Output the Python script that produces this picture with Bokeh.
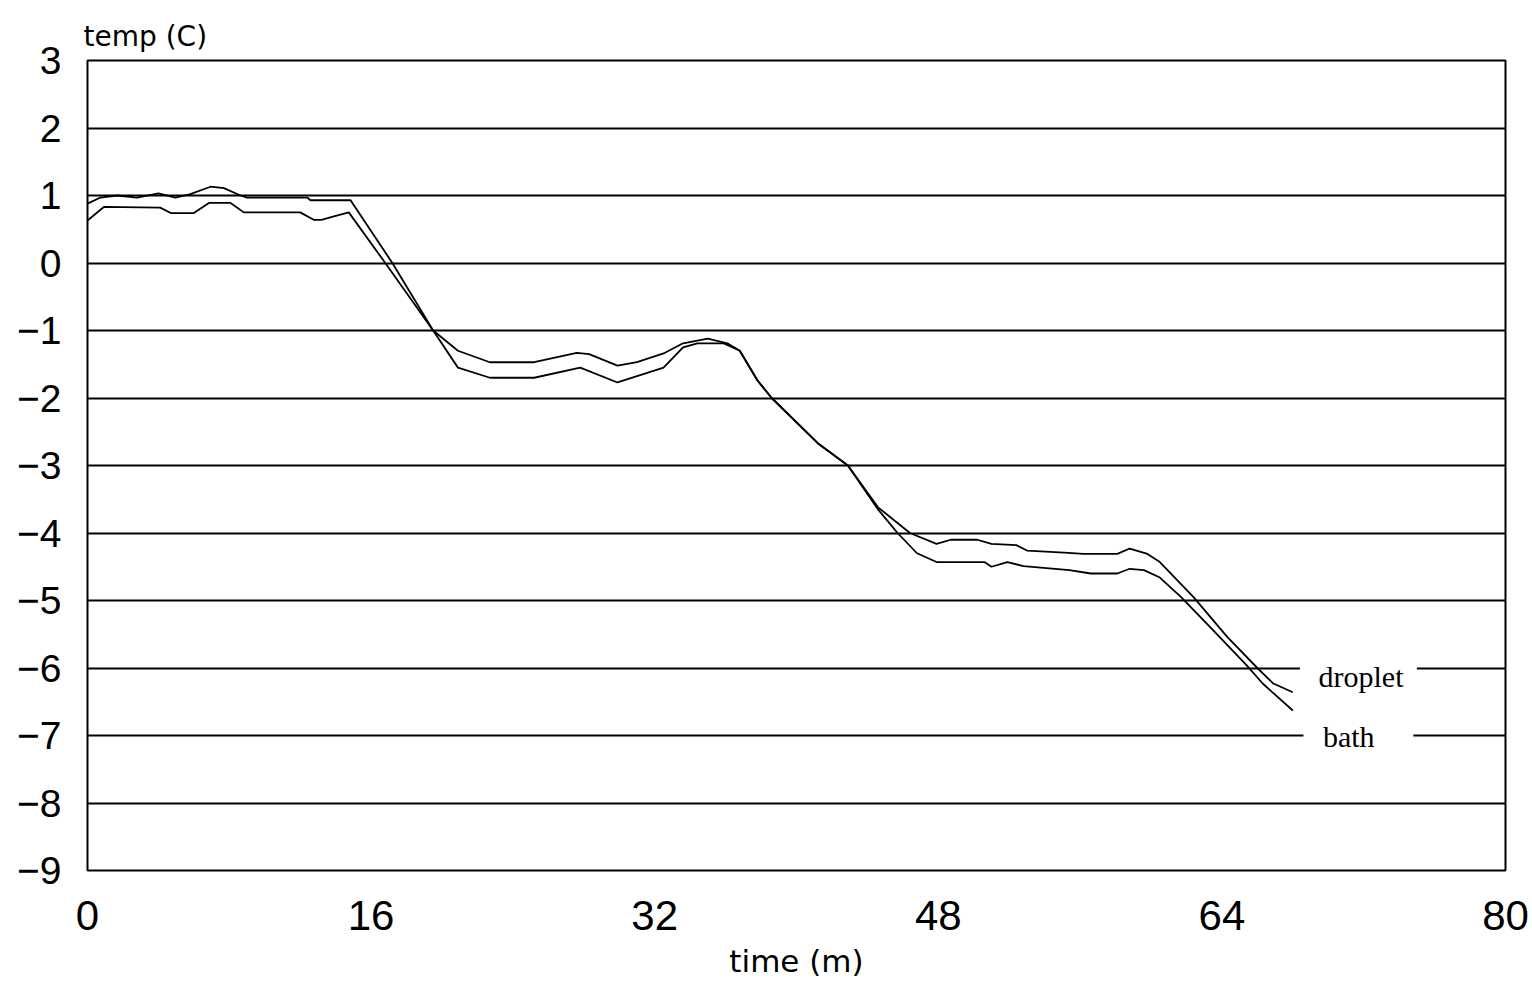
from bokeh.plotting import figure
from bokeh.models import Range1d, FixedTicker, ColumnDataSource
from bokeh.core.properties import value
from bokeh.embed import file_html
from bokeh.resources import INLINE

# ---- data ----
droplet_t = [0, 0.73, 1.67, 2.8, 4.0, 4.96, 5.8, 6.94, 7.7, 8.63, 9.0, 12.4, 12.58, 14.84,
             17.2, 19.5, 20.9, 22.7, 25.2, 27.6, 28.3, 29.9, 31.0, 32.5, 33.6, 35.0, 36.1, 36.8,
             37.8, 38.6, 41.2, 42.9, 44.6, 46.4, 47.9, 48.7, 50.2, 51.0, 52.4, 53.0, 55.1, 56.2,
             58.1, 58.8, 59.8, 60.5, 62.4, 64.3, 66.0, 66.9, 68.0]
droplet_temp = [0.88, 0.97, 1.0, 0.97, 1.03, 0.97, 1.02, 1.13, 1.11, 1.0, 0.97, 0.97, 0.93, 0.93,
                0.0, -1.0, -1.3, -1.47, -1.47, -1.33, -1.35, -1.52, -1.47, -1.34, -1.19, -1.12, -1.19, -1.3,
                -1.74, -2.0, -2.67, -3.0, -3.62, -4.0, -4.16, -4.1, -4.1, -4.16, -4.18, -4.26, -4.29, -4.31,
                -4.31, -4.23, -4.31, -4.43, -4.95, -5.54, -6.0, -6.23, -6.36]

bath_t = [0, 0.92, 4.1, 4.7, 6.0, 6.85, 8.07, 8.82, 12.0, 12.76, 13.2, 13.9, 14.74,
          16.8, 19.5, 20.9, 22.7, 25.2, 27.8, 29.9, 32.5, 33.6, 34.4, 35.9, 36.8,
          37.8, 38.6, 41.2, 42.9, 44.6, 45.7, 46.8, 47.9, 50.6, 51.0, 51.9, 52.8, 55.4, 56.6,
          58.1, 58.8, 59.6, 60.5, 61.7, 63.5, 65.4, 66.3, 68.0]
bath_temp = [0.63, 0.83, 0.82, 0.74, 0.74, 0.89, 0.89, 0.75, 0.75, 0.64, 0.64, 0.69, 0.75,
             0.0, -1.0, -1.55, -1.7, -1.7, -1.55, -1.77, -1.55, -1.25, -1.19, -1.19, -1.3,
             -1.74, -2.0, -2.67, -3.0, -3.65, -4.0, -4.3, -4.43, -4.43, -4.5, -4.43, -4.49, -4.55, -4.6,
             -4.6, -4.53, -4.55, -4.66, -4.95, -5.44, -5.96, -6.23, -6.63]

x_ticks = [0, 16, 32, 48, 64, 80]
y_ticks = [3, 2, 1, 0, -1, -2, -3, -4, -5, -6, -7, -8, -9]
series_names = ["droplet", "bath"]

# ---- figure ----
p = figure(width=1532, height=989, output_backend="svg", toolbar_location=None,
           x_range=Range1d(0, 80), y_range=Range1d(-9, 3),
           min_border_left=87, min_border_right=27, min_border_top=60, min_border_bottom=119)
p.background_fill_color = "white"
p.border_fill_color = "white"
p.outline_line_color = "black"
p.outline_line_width = 2
p.outline_line_alpha = 1

p.title.text = "temp (C)"
p.title.text_font = "DejaVu Sans"
p.title.text_font_size = "28px"
p.title.text_font_style = "normal"
p.title.text_color = "black"
p.title.align = "left"
p.title.offset = -4
p.title.standoff = 15

p.xgrid.visible = False
p.ygrid.ticker = FixedTicker(ticks=y_ticks)
p.ygrid.grid_line_color = "black"
p.ygrid.grid_line_width = 2
p.ygrid.grid_line_alpha = 1

p.xaxis.ticker = FixedTicker(ticks=x_ticks)
p.yaxis.ticker = FixedTicker(ticks=y_ticks)
for ax in (p.xaxis, p.yaxis):
    ax.axis_line_color = None
    ax.major_tick_line_color = None
    ax.minor_tick_line_color = None
    ax.major_tick_out = 0
    ax.major_tick_in = 0
    ax.major_label_text_font = "Liberation Sans"
    ax.major_label_text_color = "black"
p.yaxis.major_label_text_font_size = "39px"
p.xaxis.major_label_text_font_size = "42px"
p.yaxis.major_label_standoff = 26
p.xaxis.major_label_standoff = 30
p.xaxis.axis_label = "time (m)"
p.xaxis.axis_label_text_font = "DejaVu Sans"
p.xaxis.axis_label_text_font_size = "31px"
p.xaxis.axis_label_text_font_style = "normal"
p.xaxis.axis_label_text_color = "black"
p.xaxis.axis_label_standoff = 10

p.line(droplet_t, droplet_temp, line_color="black", line_width=1.8)
p.line(bath_t, bath_temp, line_color="black", line_width=1.8)

# label boxes that break the grid lines, then the labels
lab = ColumnDataSource(dict(
    name=series_names,
    x=[69.45, 69.7],
    y=[droplet_temp[-1] + 0.24, bath_temp[-1] - 0.39],
    left=[68.4, 68.6], right=[75.0, 74.8],
    bottom=[-6.35, -7.35], top=[-5.9, -6.9],
))
p.quad(left="left", right="right", bottom="bottom", top="top", source=lab,
       fill_color="white", line_color=None)
p.text(x="x", y="y", text="name", source=lab, text_font=value("Liberation Serif"),
       text_font_size="30px", text_color="black", text_baseline="alphabetic")

open("out.html", "w").write(file_html(p, INLINE))
